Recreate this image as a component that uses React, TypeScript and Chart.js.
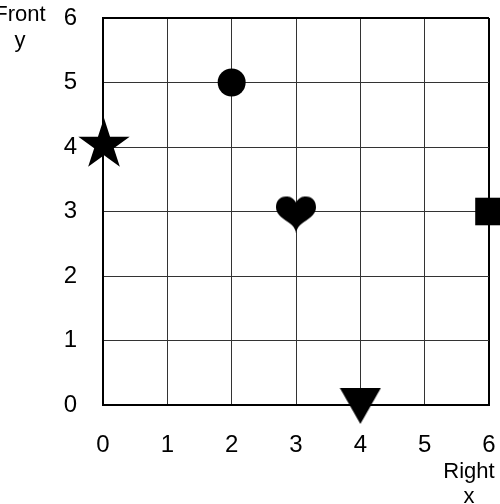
import React, { useEffect, useRef } from "react";
import { Chart, registerables } from "chart.js";

Chart.register(...registerables);

// ---- data ----
const markerNames = ["circle", "star", "heart", "square", "triangleDown"];
const xValues = [2, 0, 3, 6, 4];
const yValues = [5, 4, 3, 3, 0];
const xTickValues = [0, 1, 2, 3, 4, 5, 6];
const yTickValues = [0, 1, 2, 3, 4, 5, 6];
const xTitleLines = ["Right", "x"];
const yTitleLines = ["Front", "y"];

const FONT = "'Liberation Sans', Arial, Helvetica, sans-serif";

function makeCanvas(w: number, h: number, draw: (ctx: CanvasRenderingContext2D) => void) {
  const c = document.createElement("canvas");
  c.width = w;
  c.height = h;
  const ctx = c.getContext("2d")!;
  ctx.fillStyle = "#000";
  draw(ctx);
  return c;
}

function starCanvas() {
  const R = 27;
  const r = R * 0.382;
  const size = R * 2 + 6;
  return makeCanvas(size, size, (ctx) => {
    const cx = size / 2 + 1;
    const cy = size / 2 - 2;
    ctx.beginPath();
    for (let i = 0; i < 10; i++) {
      const rad = i % 2 === 0 ? R : r;
      const a = -Math.PI / 2 + (i * Math.PI) / 5;
      const px = cx + Math.cos(a) * rad;
      const py = cy + Math.sin(a) * rad;
      if (i === 0) ctx.moveTo(px, py);
      else ctx.lineTo(px, py);
    }
    ctx.closePath();
    ctx.fill();
  });
}

function heartCanvas() {
  const w = 40;
  const h = 42;
  return makeCanvas(w, h, (ctx) => {
    ctx.translate(0, 6);
    ctx.beginPath();
    ctx.moveTo(20, 6);
    ctx.bezierCurveTo(17, 1, 14, 0, 10, 0);
    ctx.bezierCurveTo(4, 0, 0, 4, 0, 11);
    ctx.bezierCurveTo(0, 19, 9, 23, 14, 27);
    ctx.bezierCurveTo(17, 29, 19, 32, 20, 36);
    ctx.bezierCurveTo(21, 32, 23, 29, 26, 27);
    ctx.bezierCurveTo(31, 23, 40, 19, 40, 11);
    ctx.bezierCurveTo(40, 4, 36, 0, 30, 0);
    ctx.bezierCurveTo(26, 0, 23, 1, 20, 6);
    ctx.closePath();
    ctx.fill();
  });
}

function triangleDownCanvas() {
  const w = 42;
  const h = 38;
  return makeCanvas(w, h, (ctx) => {
    ctx.beginPath();
    ctx.moveTo(0.5, 2);
    ctx.lineTo(w - 0.5, 2);
    ctx.lineTo(w / 2, h);
    ctx.closePath();
    ctx.fill();
  });
}

const titlesPlugin = {
  id: "cornerTitles",
  afterDraw(chart: any) {
    const ctx = chart.ctx as CanvasRenderingContext2D;
    ctx.save();
    ctx.fillStyle = "#000";
    ctx.font = `22px ${FONT}`;
    ctx.textAlign = "center";
    ctx.textBaseline = "middle";
    ctx.fillText(yTitleLines[0], 20, 15);
    ctx.fillText(yTitleLines[1], 20, 41);
    ctx.fillText(xTitleLines[0], 469, 472);
    ctx.fillText(xTitleLines[1], 469, 497);
    ctx.restore();
  },
};

function zeroPadding(scale: any) {
  scale.paddingTop = 0;
  scale.paddingBottom = 0;
  scale.paddingLeft = 0;
  scale.paddingRight = 0;
}

export default function App() {
  const ref = useRef<HTMLCanvasElement>(null);

  useEffect(() => {
    if (!ref.current) return;
    const styles: Record<string, any> = {
      circle: { style: "circle", radius: 14 },
      star: { style: starCanvas(), radius: 27 },
      heart: { style: heartCanvas(), radius: 20 },
      square: { style: "rect", radius: 19.5 },
      triangleDown: { style: triangleDownCanvas(), radius: 21 },
    };
    const data = xValues.map((x, i) => ({ x, y: yValues[i] }));
    const edge = (v: number) => v === 0 || v === 6;
    const chart = new Chart(ref.current, {
      type: "scatter",
      data: {
        datasets: [
          {
            data,
            pointStyle: markerNames.map((n) => styles[n].style),
            pointRadius: markerNames.map((n) => styles[n].radius),
            pointHoverRadius: markerNames.map((n) => styles[n].radius),
            backgroundColor: "#000",
            borderColor: "#000",
            borderWidth: 0,
            clip: false as any,
          } as any,
        ],
      },
      options: {
        animation: false,
        responsive: false,
        devicePixelRatio: 1,
        layout: { autoPadding: false, padding: { left: 0, right: 11, top: 18, bottom: 0 } },
        plugins: { legend: { display: false }, tooltip: { enabled: false } },
        scales: {
          x: {
            type: "linear",
            min: 0,
            max: 6,
            afterBuildTicks: (scale: any) => {
              scale.ticks = xTickValues.map((v) => ({ value: v }));
            },
            afterFit: (scale: any) => {
              scale.height = 99;
              zeroPadding(scale);
            },
            ticks: {
              color: "#000",
              font: { family: FONT, size: 24 },
              padding: 26,
            },
            grid: {
              drawTicks: false,
              color: (c: any) => (edge(c.tick.value) ? "#000" : "#333"),
              lineWidth: (c: any) => (edge(c.tick.value) ? 2 : 1),
            },
            border: { display: true, color: "#000", width: 2 },
          },
          y: {
            type: "linear",
            min: 0,
            max: 6,
            afterBuildTicks: (scale: any) => {
              scale.ticks = yTickValues.map((v) => ({ value: v }));
            },
            afterFit: (scale: any) => {
              scale.width = 103;
              zeroPadding(scale);
            },
            ticks: {
              color: "#000",
              font: { family: FONT, size: 24 },
              padding: 26,
            },
            grid: {
              drawTicks: false,
              color: (c: any) => (edge(c.tick.value) ? "#000" : "#333"),
              lineWidth: (c: any) => (edge(c.tick.value) ? 2 : 1),
            },
            border: { display: true, color: "#000", width: 2 },
          },
        },
      },
      plugins: [titlesPlugin],
    });
    return () => chart.destroy();
  }, []);

  return (
    <div style={{ position: "fixed", left: 0, top: 0, width: 500, height: 504, background: "#fff" }}>
      <canvas ref={ref} width={500} height={504} style={{ display: "block", width: 500, height: 504 }} />
    </div>
  );
}
